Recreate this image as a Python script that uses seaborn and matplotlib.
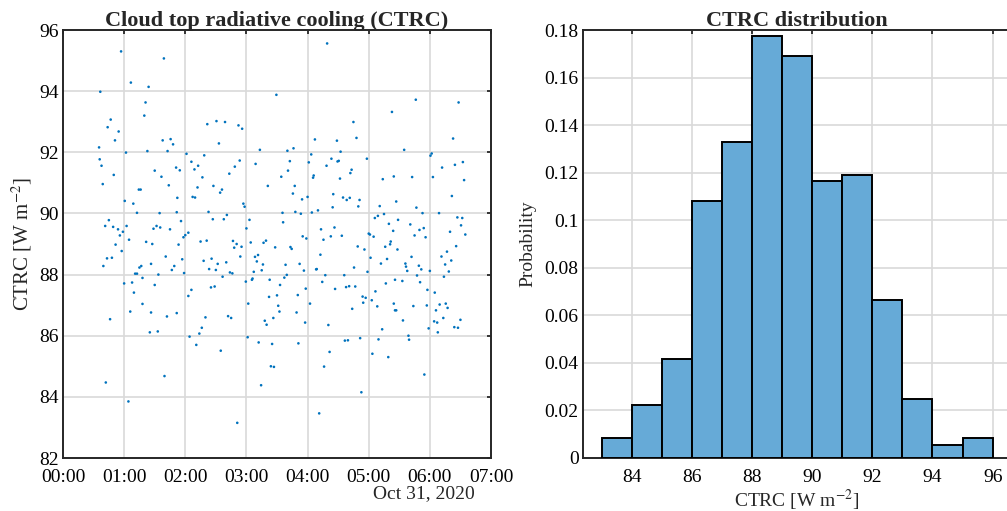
import numpy as np
import pandas as pd
import matplotlib
matplotlib.use("Agg")
import matplotlib.pyplot as plt
import matplotlib.dates as mdates
import seaborn as sns

# ---------------- data ----------------
hours = [
 0.95,1.65,1.11,1.40,0.61,1.35,1.33,0.78,2.36,0.73,0.91,0.85,1.63,1.76,1.80,0.59,1.03,1.38,1.71,2.02,
 2.31,0.60,2.10,0.63,2.21,1.85,1.91,1.50,2.15,0.83,1.61,2.28,0.65,1.73,2.20,1.24,1.27,1.87,2.12,2.16,
 1.01,1.15,1.21,1.58,1.86,2.38,0.75,0.69,0.82,0.90,1.04,0.98,0.93,1.53,1.48,1.59,1.75,1.93,2.05,2.00,
 1.97,1.08,
 0.86,1.36,1.46,1.89,2.25,2.35,0.96,0.72,0.80,1.68,1.95,2.30,0.66,1.44,1.28,1.25,1.82,1.78,2.39,1.18,
 1.21,1.56,1.98,1.30,1.00,1.13,1.50,2.10,1.16,2.05,1.30,1.10,1.44,1.86,0.77,1.70,2.33,2.27,2.23,1.42,
 1.55,2.07,2.18,1.66,0.70,1.07,
 4.32,3.49,2.51,2.65,2.87,2.93,2.55,4.12,4.48,3.22,3.67,3.77,4.54,4.06,2.89,3.15,2.81,3.71,4.02,4.39,
 4.49,4.51,4.31,3.68,2.72,3.57,4.10,4.09,4.53,2.46,2.60,2.57,3.35,3.79,3.76,3.91,4.00,4.42,4.58,4.64,
 4.69,2.95,2.97,4.41,3.59,3.80,3.89,4.07,4.17,2.45,2.63,2.68,3.05,3.60,3.00,4.22,4.44,4.38,4.56,3.92,
 3.98,4.26,
 2.78,2.84,2.80,3.07,3.28,3.32,3.47,3.72,3.74,2.92,2.43,2.53,2.67,2.50,2.90,3.14,3.19,3.17,3.27,3.25,
 3.12,3.64,3.87,3.94,4.21,4.14,4.15,2.73,2.77,2.61,3.66,3.62,4.29,4.60,2.99,3.09,3.10,3.38,3.55,4.24,
 4.45,4.63,4.68,2.42,2.48,3.97,3.50,3.37,3.84,3.03,4.04,3.52,3.54,3.82,2.70,2.75,3.30,3.44,3.33,3.96,
 4.34,3.02,3.20,3.42,3.85,4.61,4.66,2.58,4.36,3.40,3.45,4.27,3.24,4.19,2.85,
 5.77,6.47,5.38,4.75,6.38,4.80,5.58,6.03,6.01,4.97,6.41,6.54,6.20,4.72,4.70,5.23,5.41,5.71,6.05,6.56,
 6.36,4.85,4.83,5.45,5.18,5.78,5.88,6.15,5.25,5.15,5.10,5.48,6.45,6.53,5.33,5.68,6.51,5.90,5.83,5.40,
 6.33,6.58,5.00,5.02,5.08,5.75,5.93,
 5.36,5.35,4.82,4.93,5.27,5.47,6.43,6.28,5.03,5.30,5.70,6.19,6.35,5.20,5.60,5.61,5.82,5.86,6.25,4.76,
 4.98,5.63,6.00,6.31,5.79,6.23,5.43,5.55,5.28,5.84,4.78,5.11,5.96,6.08,4.90,4.95,5.05,4.91,5.41,6.16,
 6.26,5.14,5.73,5.95,6.29,4.73,5.43,5.45,6.10,6.22,6.50,5.56,6.07,6.12,6.40,6.46,5.22,5.98,6.13,5.65,
 4.86,5.16,5.66,5.06,5.32,5.91,4.88,
]
ctrc = [
 95.30,95.07,94.28,94.14,93.98,93.63,93.20,93.07,92.92,92.82,92.68,92.39,92.39,92.43,92.26,92.16,91.99,92.04,92.04,91.95,
 91.90,91.77,91.69,91.56,91.56,91.50,91.41,91.40,91.44,91.26,91.20,91.18,90.96,90.92,90.85,90.78,90.78,90.51,90.54,90.52,
 90.41,90.32,90.02,90.01,90.04,90.05,89.78,89.59,89.56,89.48,89.59,89.40,89.28,89.59,89.50,89.54,89.48,89.75,89.37,89.29,
 89.22,89.14,
 88.98,89.07,89.00,88.98,89.08,89.11,88.77,88.53,88.55,88.59,88.50,88.45,88.28,88.35,88.28,88.23,88.28,88.15,88.18,88.03,
 88.03,88.00,88.05,87.89,87.71,87.74,87.66,87.50,87.41,87.30,87.04,86.79,86.76,86.74,86.54,86.63,86.60,86.26,86.07,86.11,
 86.14,85.97,85.70,84.68,84.47,83.85,
 95.56,93.88,93.02,92.99,92.88,92.77,92.29,92.42,92.38,92.08,92.05,92.13,92.02,91.93,91.73,91.62,91.53,91.71,91.67,91.79,
 91.70,91.72,91.56,91.40,91.30,91.20,91.24,91.17,91.14,90.90,90.78,90.68,90.90,90.90,90.65,90.46,90.54,90.63,90.52,90.44,
 90.51,90.32,90.22,90.20,90.02,90.05,89.99,90.03,90.10,89.81,89.81,89.95,89.79,89.71,89.51,89.48,89.54,89.25,89.27,89.25,
 89.18,89.14,
 89.10,89.00,88.88,89.05,89.04,89.11,88.89,88.90,88.84,88.91,88.52,88.35,88.40,88.15,88.59,88.58,88.64,88.43,88.33,88.14,
 88.09,88.32,88.35,88.13,88.65,88.17,88.18,88.07,88.04,87.93,87.99,87.90,87.98,87.98,87.77,87.83,87.87,87.83,87.66,87.76,
 87.53,87.59,87.62,87.58,87.61,87.54,87.32,87.27,87.33,87.05,87.05,86.98,86.79,86.76,86.64,86.58,86.49,86.58,86.36,86.43,
 86.35,85.95,85.78,85.73,85.75,85.84,85.85,85.51,85.47,85.00,84.98,84.99,84.38,83.46,83.15,
 93.72,93.63,93.32,92.99,92.45,92.47,92.08,91.96,91.89,91.79,91.59,91.68,91.50,91.43,91.32,91.12,91.21,91.19,91.19,91.09,
 90.57,90.44,90.23,90.39,90.24,90.19,90.01,90.01,89.98,89.92,89.85,89.79,89.87,89.85,89.66,89.64,89.61,89.52,89.46,89.43,
 89.40,89.31,89.34,89.31,89.24,89.28,89.22,
 89.08,88.99,88.92,88.82,88.91,88.82,88.93,88.75,88.55,88.51,88.58,88.59,88.46,88.36,88.36,88.26,88.29,88.17,88.33,88.23,
 88.09,88.12,88.12,88.10,87.97,87.93,87.83,87.79,87.71,87.75,87.61,87.45,87.50,87.41,87.28,87.24,87.16,87.08,87.05,87.02,
 87.05,86.96,86.97,86.99,86.91,86.88,86.83,86.83,86.83,86.58,86.52,86.50,86.47,86.43,86.28,86.26,86.21,86.24,86.11,86.00,
 85.92,85.88,85.87,85.41,85.30,84.73,84.15,
]
bin_edges = [83, 84, 85, 86, 87, 88, 89, 90, 91, 92, 93, 94, 95, 96]
probability = [0.0083, 0.0222, 0.0416, 0.1080, 0.1330, 0.1773, 0.1690,
               0.1163, 0.1191, 0.0665, 0.0249, 0.0055, 0.0083]
hour_ticks = list(range(8))
ctrc_ticks = [82, 84, 86, 88, 90, 92, 94, 96]
prob_ticks = [0, 0.02, 0.04, 0.06, 0.08, 0.10, 0.12, 0.14, 0.16, 0.18]
prob_labels = ["0", "0.02", "0.04", "0.06", "0.08", "0.1", "0.12", "0.14", "0.16", "0.18"]
hist_xticks = [84, 86, 88, 90, 92, 94, 96]

# ---------------- style ----------------
sns.set_style("white")
plt.rcParams["font.family"] = ["Liberation Serif", "DejaVu Serif"]
plt.rcParams["mathtext.fontset"] = "stix"
FS = 14
TFS = 16
DARK = "#262626"
BLUE = (0.0, 0.447, 0.741)
BAR = (0.4, 0.668, 0.845)

fig = plt.figure(figsize=(10.07, 5.11), dpi=100)
W, H = 1007, 511
ax1 = fig.add_axes([63 / W, 1 - 458 / H, 428 / W, 428 / H])
ax2 = fig.add_axes([582.7 / W, 1 - 458 / H, 428 / W, 428 / H])

base = pd.Timestamp("2020-10-31")
df = pd.DataFrame({"time": base + pd.to_timedelta(hours, unit="h"), "ctrc": ctrc})
sns.scatterplot(data=df, x="time", y="ctrc", ax=ax1, s=3.5, color=BLUE,
                edgecolor="none", linewidth=0, zorder=3)

ax1.set_xlim(base, base + pd.Timedelta(hours=7))
ax1.set_ylim(82, 96)
ax1.set_xticks([base + pd.Timedelta(hours=h) for h in hour_ticks])
ax1.xaxis.set_major_formatter(mdates.DateFormatter("%H:%M"))
ax1.set_yticks(ctrc_ticks)
ax1.set_xlabel("")
ax1.set_ylabel("CTRC [W m$^{-2}$]", fontsize=15, labelpad=4)
ax1.set_title("Cloud top radiative cooling (CTRC)", fontsize=TFS, fontweight="bold", pad=3)
fig.text(424 / W, 1 - 494 / H, "Oct 31, 2020", ha="center", va="center", fontsize=FS)

# histogram
centers = [(a + b) / 2 for a, b in zip(bin_edges[:-1], bin_edges[1:])]
sns.histplot(x=centers, weights=probability, bins=bin_edges, ax=ax2, stat="count",
             color=BAR, alpha=1.0, edgecolor="black", linewidth=1.4, zorder=3)
ax2.set_xlim(82.37, 96.6)
ax2.set_ylim(0, 0.18)
ax2.set_xticks(hist_xticks)
ax2.set_yticks(prob_ticks)
ax2.set_yticklabels(prob_labels)
ax2.set_xlabel("CTRC [W m$^{-2}$]", fontsize=FS, labelpad=1)
ax2.set_ylabel("Probability", fontsize=FS, labelpad=6)
ax2.set_title("CTRC distribution", fontsize=TFS, fontweight="bold", pad=3)

for ax in (ax1, ax2):
    ax.grid(True, color="#d9d9d9", linewidth=1.2, zorder=0)
    ax.set_axisbelow(True)
    ax.tick_params(direction="in", length=3, width=1.3, color=DARK,
                   top=True, right=True, labelsize=FS, pad=3, labelcolor="black")
    ax.tick_params(axis="x", pad=8)
    for sp in ax.spines.values():
        sp.set_visible(True)
        sp.set_color(DARK)
        sp.set_linewidth(1.4)

fig.savefig("out.png", dpi=100)
